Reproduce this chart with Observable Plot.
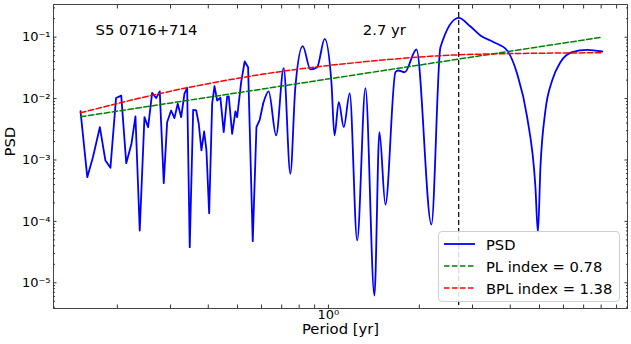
<!DOCTYPE html>
<html>
<head>
<meta charset="utf-8">
<script src="https://cdn.jsdelivr.net/npm/d3@7"></script>
<script src="https://cdn.jsdelivr.net/npm/@observablehq/plot@0.6"></script>
<style>
  body { margin: 0; background: #fff; }
  #wrap { position: relative; width: 631px; height: 344px; font-family: "DejaVu Sans", sans-serif; }
  #legend { position: absolute; left: 438px; top: 231px; width: 182px; height: 71px; box-sizing: border-box;
            background: rgba(255,255,255,0.85); border: 1px solid #cfcfcf; border-radius: 4px; font-size: 14.7px; }
  .row { position: absolute; left: 0; height: 20px; display: flex; align-items: center; }
  .row svg { margin-left: 5px; margin-right: 11px; }
</style>
</head>
<body>
<div id="wrap"></div>
<script>
// ---- data ----
const psdPeriod = [0.151,0.159,0.166,0.175,0.1826,0.1897,0.198,0.206,0.214,0.2227,
  0.2296,0.2372,0.2459,0.2529,0.2607,0.2688,0.2763,0.2849,0.2923,0.3014,
  0.309,0.317,0.3253,0.3336,0.3405,0.3473,0.3565,0.3648,0.372,0.3797,
  0.3876,0.3945,0.4027,0.412,0.4194,0.428,0.4388,0.45,0.462,0.4677,
  0.4799,0.492,0.4985,0.514,0.528,0.542,0.5615,0.5775,0.5922,0.6077,
  0.634,0.671,0.711,0.748,0.777,0.822,0.872,0.9175,0.972,1.023,
  1.047,1.082,1.124,1.176,1.245,1.326,1.42,1.475,1.544,1.667,
  1.705,1.789,1.956,2.193,2.349,2.701,2.953,3.186,3.527,3.906,
  4.216,4.55,4.847,4.94,5.035,5.23,5.505,5.865,6.41,7.19,
  8.06];
const psdValue = [6.23e-3,5.25e-4,1.11e-3,3.42e-3,9.8e-4,7.46e-4,1.02e-2,1.12e-2,8.87e-4,1.84e-3,
  5.11e-3,7.11e-5,4.98e-3,3.42e-3,1.24e-2,1.02e-2,1.31e-2,4.19e-4,4.13e-3,6.4e-3,
  4.8e-3,8.23e-3,4.98e-3,1.2e-2,1.5e-2,3.8e-5,6.57e-3,6.4e-3,3.89e-3,1.43e-3,
  2.91e-3,1.43e-3,1.36e-4,8.23e-3,1.59e-2,9.31e-3,1.03e-2,2.84e-3,1.08e-2,1.09e-2,
  2.67e-3,6.17e-3,4.98e-3,1.85e-2,4.02e-2,3.25e-2,4.76e-5,3.42e-3,4.52e-3,8.23e-3,
  1.31e-2,2.51e-3,3.13e-2,5.96e-4,1.53e-2,7.13e-2,2.98e-2,3.25e-2,9.42e-2,1.85e-2,
  2.51e-3,8.74e-3,3.42e-3,1.22e-2,4.89e-5,1.48e-2,6.21e-6,2.84e-3,1.88e-4,2.69e-2,
  2.87e-2,2.69e-2,6.3e-2,8.9e-5,6.87e-2,0.207,0.149,0.1066,0.0829,0.0607,
  0.0253,4.98e-3,3.6e-4,6.6e-5,7.63e-4,6.4e-3,1.97e-2,3.92e-2,5.7e-2,6.23e-2,
  5.85e-2];
const plPeriod = [0.151, 8.06];
const plValue = [5.06e-3, 0.1];
const bplPeriod = [0.151, 0.300, 0.618, 0.808, 1.276, 2.69, 5.03, 8.06];
const bplValue = [5.87e-3, 1.32e-2, 2.53e-2, 3.05e-2, 3.92e-2, 5.16e-2, 5.48e-2, 5.57e-2];
const peakPeriod = [2.7];
const peakLabel = "2.7 yr";
const peakLabelPeriod = 1.3;
const sourceName = "S5 0716+714";
const xLabel = "Period [yr]";
const yLabel = "PSD";
const xMajorTicks = [1];
const xTickLabels = ["10⁰"];
const xMinorTicks = [0.2,0.3,0.4,0.5,0.6,0.7,0.8,0.9,2,3,4,5,6,7,8,9];
const yMajorTicks = [1e-5, 1e-4, 1e-3, 1e-2, 1e-1];
const yTickLabels = ["10⁻⁵","10⁻⁴","10⁻³","10⁻²","10⁻¹"];
const legendLabels = ["PSD", "PL index = 0.78", "BPL index = 1.38"];
const seriesColors = ["#0000ff", "#008000", "#ff0000"];

// ---- derived tables ----
const psd = psdPeriod.map((p, i) => ({p, v: psdValue[i]}));
const pl = plPeriod.map((p, i) => ({p, v: plValue[i]}));
const bpl = bplPeriod.map((p, i) => ({p, v: bplValue[i]}));
const yDomain = [3.814e-6, 0.3407];
const xDomain = [0.1229, 9.78];
const yMinorTicks = [];
for (let e = -6; e <= -1; e++) for (let m = 2; m <= 9; m++) {
  const v = m * Math.pow(10, e);
  if (v > yDomain[0] && v < yDomain[1]) yMinorTicks.push(v);
}
const xLab = new Map(xMajorTicks.map((t, i) => [t, xTickLabels[i]]));
const yLab = new Map(yMajorTicks.map((t, i) => [t, yTickLabels[i]]));
const tickColor = "#333";

const chart = Plot.plot({
  width: 631, height: 344,
  marginLeft: 53, marginRight: 4, marginTop: 4, marginBottom: 36,
  style: {fontFamily: '"DejaVu Sans", sans-serif', fontSize: "13px", background: "white", color: "black"},
  x: {type: "log", domain: xDomain},
  y: {type: "log", domain: yDomain},
  marks: [
    Plot.line(psd.filter(d => d.p <= 0.61), {x: "p", y: "v", stroke: seriesColors[0], strokeWidth: 1.8}),
    Plot.line(psd.filter(d => d.p >= 0.6), {x: "p", y: "v", curve: "monotone-x", stroke: seriesColors[0], strokeWidth: 1.8}),
    Plot.line(pl, {x: "p", y: "v", stroke: seriesColors[1], strokeWidth: 1.5, strokeDasharray: "5.5,2.5"}),
    Plot.line(bpl, {x: "p", y: "v", curve: "monotone-x", stroke: seriesColors[2], strokeWidth: 1.5, strokeDasharray: "5.5,2.5"}),
    Plot.ruleX(peakPeriod, {stroke: "black", strokeWidth: 1.2, strokeDasharray: "5,3"}),
    Plot.frame({stroke: "#444"}),
    // inward ticks, all four sides
    Plot.axisX({anchor: "bottom", ticks: xMajorTicks.concat(xMinorTicks), tickSize: -3.5, tickFormat: () => "", label: null, stroke: tickColor}),
    Plot.axisX({anchor: "top", ticks: xMajorTicks.concat(xMinorTicks), tickSize: -3.5, tickFormat: () => "", label: null, stroke: tickColor}),
    Plot.axisY({anchor: "left", ticks: yMajorTicks, tickSize: -3.5, tickFormat: () => "", label: null, stroke: tickColor}),
    Plot.axisY({anchor: "left", ticks: yMinorTicks, tickSize: -2, tickFormat: () => "", label: null, stroke: tickColor}),
    Plot.axisY({anchor: "right", ticks: yMajorTicks, tickSize: -3.5, tickFormat: () => "", label: null, stroke: tickColor}),
    Plot.axisY({anchor: "right", ticks: yMinorTicks, tickSize: -2, tickFormat: () => "", label: null, stroke: tickColor}),
    // tick labels
    Plot.axisX({anchor: "bottom", ticks: xMajorTicks, tickSize: 0, tickPadding: 1, tickFormat: d => xLab.get(d), label: null, fontSize: 13}),
    Plot.axisY({anchor: "left", ticks: yMajorTicks, tickSize: 0, tickPadding: 3, tickFormat: d => yLab.get(d), label: null, fontSize: 13}),
    // axis titles and annotations
    Plot.text([xLabel], {frameAnchor: "bottom", dy: 25, fontSize: 14.8, text: d => d}),
    Plot.text([yLabel], {frameAnchor: "left", dx: -43, rotate: -90, fontSize: 14.8, text: d => d}),
    Plot.text([sourceName], {frameAnchor: "top-left", dx: 42, dy: 19.5, textAnchor: "start", fontSize: 14.8, text: d => d}),
    Plot.text([{p: peakLabelPeriod, t: peakLabel}], {x: "p", text: "t", frameAnchor: "top", dy: 19.5, textAnchor: "start", fontSize: 14.8})
  ]
});
const wrap = document.getElementById("wrap");
wrap.appendChild(chart);

// legend
const legend = document.createElement("div");
legend.id = "legend";
const dashes = [null, "5.5,2.5", "5.5,2.5"];
legendLabels.forEach((lab, i) => {
  const row = document.createElement("div");
  row.className = "row";
  row.style.top = (2 + i * 22) + "px";
  row.innerHTML = `<svg width="31" height="6"><line x1="0" y1="3" x2="31" y2="3" stroke="${seriesColors[i]}" stroke-width="${i === 0 ? 1.8 : 1.5}" ${dashes[i] ? `stroke-dasharray="${dashes[i]}"` : ""}/></svg><span>${lab}</span>`;
  legend.appendChild(row);
});
wrap.appendChild(legend);
</script>
</body>
</html>
